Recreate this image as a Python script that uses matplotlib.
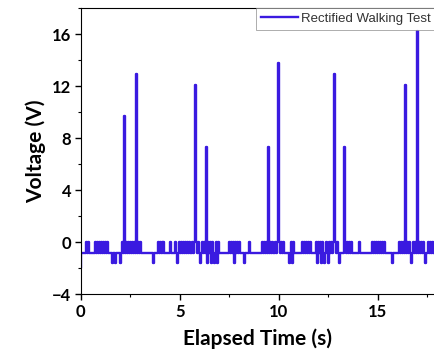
import numpy as np
import matplotlib
matplotlib.use('Agg')
from matplotlib import pyplot as plt
from matplotlib.ticker import MultipleLocator

plt.rcParams['font.family'] = ['Lato', 'DejaVu Sans']

# 신호 데이터
dt = 0.05          # 샘플 간격 (s)
t_end = 18.0
base_v = -0.8      # 기준 전압
up_v = 0.0         # 노이즈 상단
down_v = -1.6      # 노이즈 하단

# 스파이크 위치와 높이
spike_t = [2.22, 2.78, 5.80, 6.33, 9.48, 10.0, 12.80, 13.35, 16.40, 17.0]
spike_v = [9.7, 12.9, 12.1, 7.3, 7.3, 13.8, 12.9, 7.3, 12.1, 16.2]

# 0 V 근처에서 흔들리는 구간 (시작, 끝)
up_blocks = [(0.30, 0.42), (0.76, 1.38), (2.10, 3.04), (3.88, 4.25),
             (4.55, 4.60), (4.80, 5.56), (5.65, 7.00), (7.50, 8.00),
             (8.50, 8.55), (9.19, 9.70), (9.86, 10.29), (10.54, 10.80),
             (11.21, 11.64), (11.90, 12.48), (12.56, 13.07), (13.32, 13.74),
             (14.08, 14.13), (14.76, 15.35), (16.10, 17.37), (17.54, 17.88)]

# 아래로 떨어지는 지점
down_t = [1.60, 1.77, 1.99, 3.63, 4.89, 6.07, 6.41, 6.58, 6.75, 6.91,
          7.76, 8.23, 10.54, 10.70, 11.97, 12.14, 12.31, 12.48, 13.07,
          15.77, 16.70, 17.40]
start_dip = -1.9

t = np.arange(0, t_end + dt, dt)
v = np.full(len(t), base_v)

for a, b in up_blocks:
    i0, i1 = int(round(a/dt)), int(round(b/dt))
    for i in range(i0, i1 + 1):
        if (i - i0) % 2 == 0:
            v[i] = up_v
for td in down_t:
    v[int(round(td/dt))] = down_v
v[0] = start_dip
for ts, vs in zip(spike_t, spike_v):
    v[int(round(ts/dt))] = vs

fig = plt.figure(figsize=(4.35, 3.51), dpi=100)
ax = fig.add_axes([0.186, 0.162, 0.814, 0.815])
ax.plot(t, v, color='#3a1ae0', lw=1.7, drawstyle='steps-mid',
        label='Rectified Walking Test')

ax.set_xlim(0, 17.9)
ax.set_ylim(-4, 18)
ax.xaxis.set_major_locator(MultipleLocator(5))
ax.xaxis.set_minor_locator(MultipleLocator(2.5))
ax.yaxis.set_major_locator(MultipleLocator(4))
ax.yaxis.set_minor_locator(MultipleLocator(2))
ax.tick_params(which='major', length=4, width=1, labelsize=12, pad=3)
ax.tick_params(which='minor', length=2.5, width=0.8)
for lab in ax.get_xticklabels() + ax.get_yticklabels():
    lab.set_fontweight('bold')

ax.set_xlabel('Elapsed Time (s)', fontsize=15, fontweight='bold', labelpad=6)
ax.set_ylabel('Voltage (V)', fontsize=15, fontweight='bold', labelpad=4)

leg = ax.legend(loc='upper right', bbox_to_anchor=(1.0, 1.0),
                borderaxespad=0, fontsize=9.5, fancybox=False,
                handlelength=2.8, handletextpad=0.2, borderpad=0.35,
                prop={'family': 'Liberation Sans', 'size': 9.5})
leg.get_frame().set_edgecolor('#888888')
leg.get_frame().set_linewidth(0.6)
for txt in leg.get_texts():
    txt.set_color('#333333')

fig.savefig('out.png', dpi=100)
